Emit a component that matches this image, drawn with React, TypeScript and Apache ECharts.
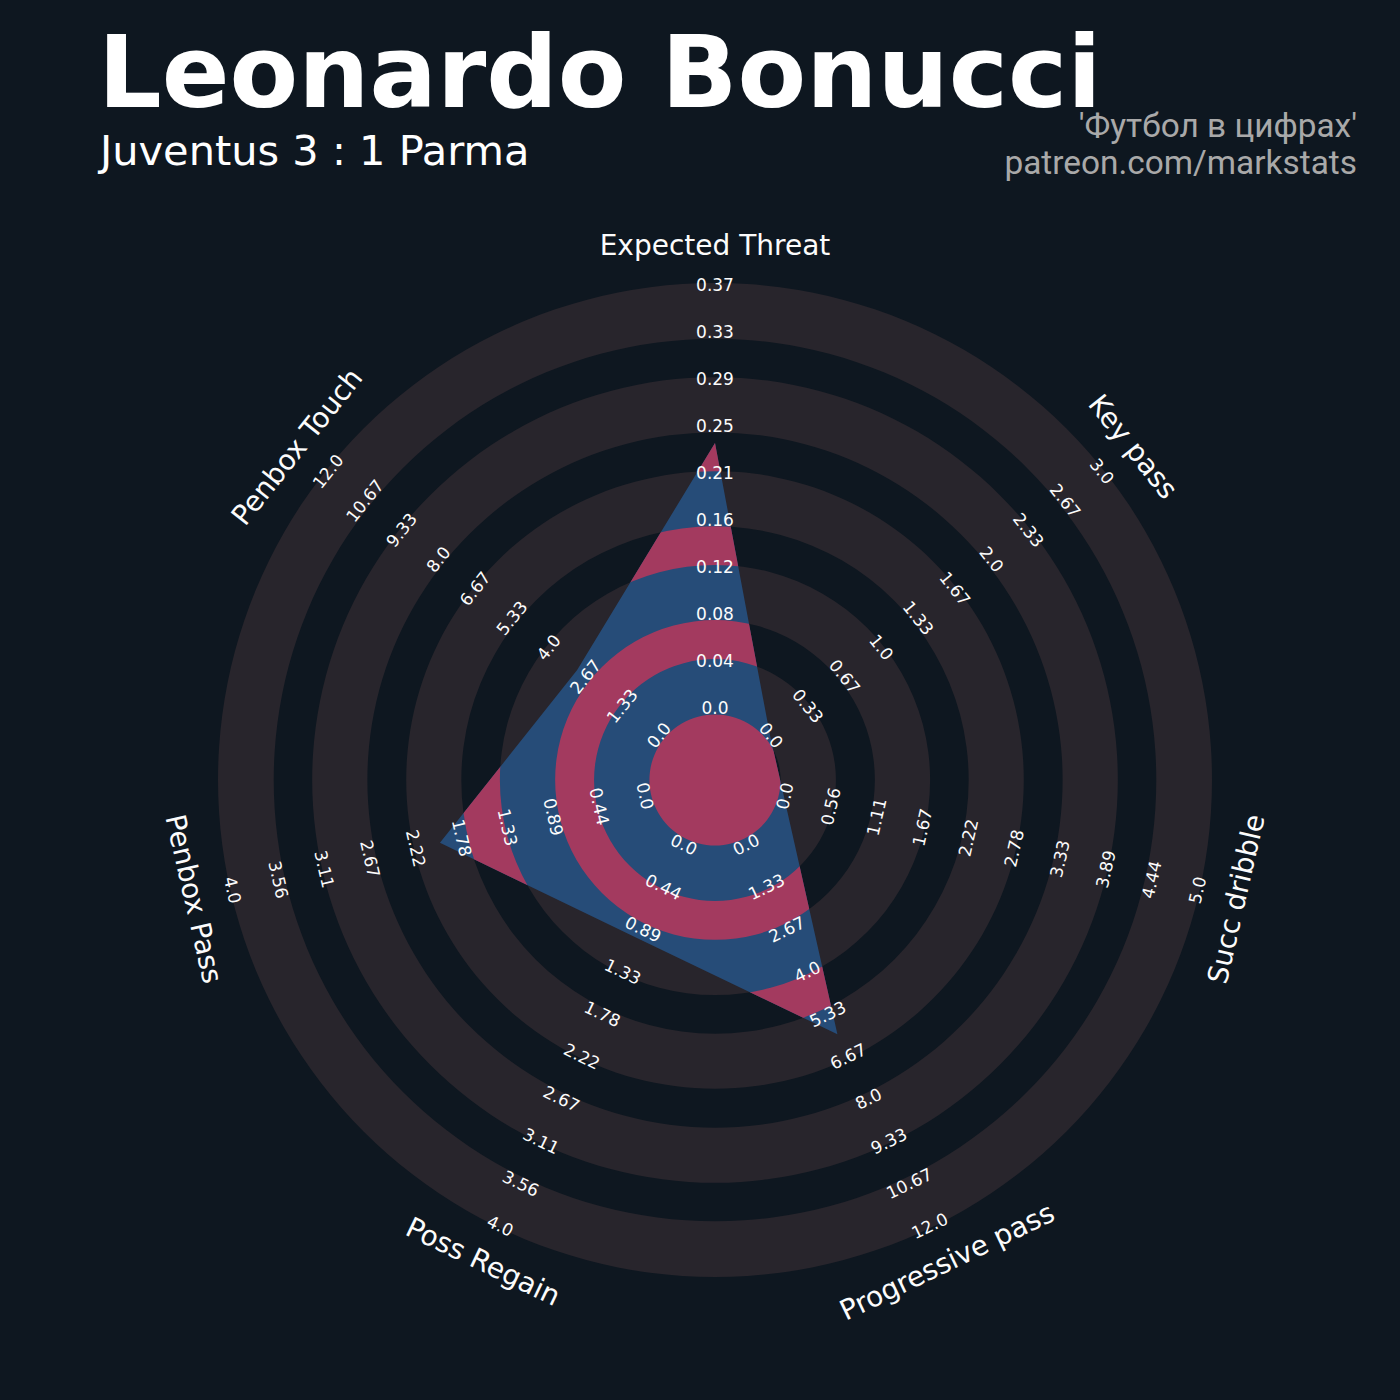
import { useEffect, useRef } from 'react';
import * as echarts from 'echarts';

// ---------- data ----------
const PLAYER = 'Leonardo Bonucci';
const MATCH = 'Juventus 3 : 1 Parma';
const CREDIT_1 = "'Футбол в цифрах'";
const CREDIT_2 = 'patreon.com/markstats';

const PARAMS = ['Expected Threat', 'Key pass', 'Succ dribble', 'Progressive pass', 'Poss Regain', 'Penbox Pass', 'Penbox Touch'];
const LOW = [0, 0, 0, 0, 0, 0, 0];
const HIGH = [0.37, 3, 5, 12, 4, 4, 12];
const VALUES = [0.233, 0, 0, 6, 1, 2, 3];

const TICKS_XT = ['0.0', '0.04', '0.08', '0.12', '0.16', '0.21', '0.25', '0.29', '0.33', '0.37'];
const TICKS_KEY_PASS = ['0.0', '0.33', '0.67', '1.0', '1.33', '1.67', '2.0', '2.33', '2.67', '3.0'];
const TICKS_DRIBBLE = ['0.0', '0.56', '1.11', '1.67', '2.22', '2.78', '3.33', '3.89', '4.44', '5.0'];
const TICKS_PROG_PASS = ['0.0', '1.33', '2.67', '4.0', '5.33', '6.67', '8.0', '9.33', '10.67', '12.0'];
const TICKS_REGAIN = ['0.0', '0.44', '0.89', '1.33', '1.78', '2.22', '2.67', '3.11', '3.56', '4.0'];
const TICKS_PENBOX_PASS = ['0.0', '0.44', '0.89', '1.33', '1.78', '2.22', '2.67', '3.11', '3.56', '4.0'];
const TICKS_PENBOX_TOUCH = ['0.0', '1.33', '2.67', '4.0', '5.33', '6.67', '8.0', '9.33', '10.67', '12.0'];
const TICKS = [TICKS_XT, TICKS_KEY_PASS, TICKS_DRIBBLE, TICKS_PROG_PASS, TICKS_REGAIN, TICKS_PENBOX_PASS, TICKS_PENBOX_TOUCH];

// ---------- geometry (radial units of the polar radius axis) ----------
const CENTER_U = 1.5; // where the low value sits
const SPAN_U = 9; // from low to high
const OUTER_U = 10.57;
const RING_INNER = [1.395, 3.4, 5.395, 7.393, 9.385];
const RING_OUTER = [2.572, 4.575, 6.567, 8.567, 10.57];
const TICK_U0 = 1.525;
const PARAM_U = 11.37;

// ---------- style ----------
const BG = '#0e1720';
const GREY = '#28252c';
const BLUE = '#264c78';
const PINK = '#a33a5f';
const TEXT = '#fcfcfc';
const CREDIT = '#a9a9a9';
const FONT = 'DejaVu Sans';

const N = PARAMS.length;
const axisAngle = (i: number) => (360 / N) * i;
const toU = (v: number, i: number) => CENTER_U + (SPAN_U * (v - LOW[i])) / (HIGH[i] - LOW[i]);
const readableRotation = (a: number) => {
  let r = -a;
  while (r <= -90) r += 180;
  while (r > 90) r -= 180;
  return (r * Math.PI) / 180;
};

function txtStyle(
  text: string,
  size: number,
  fill: string,
  align: string,
  family = FONT,
  weight = 'normal',
  lineHeight?: number
) {
  const s: any = {
    text,
    fill,
    fontSize: size,
    fontFamily: family,
    fontWeight: weight,
    align,
    verticalAlign: 'middle',
    textAlign: align,
    textVerticalAlign: 'middle',
  };
  if (lineHeight) s.lineHeight = lineHeight;
  return s;
}

export default function App() {
  const ref = useRef<HTMLDivElement>(null);

  useEffect(() => {
    if (!ref.current) return;
    const chart = echarts.init(ref.current, null, { renderer: 'svg' });
    const dist = (p: number[], c: number[]) => Math.hypot(p[0] - c[0], p[1] - c[1]);

    const radarData = VALUES.map((v, i) => [toU(v, i), axisAngle(i)]);

    const labelItems: { value: number[]; text: string; size: number }[] = [];
    TICKS.forEach((ticks, i) =>
      ticks.forEach((t, j) => labelItems.push({ value: [TICK_U0 + j, axisAngle(i)], text: t, size: 17 }))
    );
    PARAMS.forEach((p, i) => labelItems.push({ value: [PARAM_U, axisAngle(i)], text: p, size: 28 }));

    const darkBands = RING_INNER.map((r0, k) => [k === 0 ? 0 : RING_OUTER[k - 1], r0]);

    const option: any = {
      animation: false,
      backgroundColor: BG,
      polar: { center: [715, 780], radius: 497 },
      angleAxis: { type: 'value', min: 0, max: 360, startAngle: 90, clockwise: true, show: false },
      radiusAxis: { type: 'value', min: 0, max: OUTER_U, show: false },
      graphic: [
        { type: 'text', x: 98, y: 72.6, style: txtStyle(PLAYER, 100, '#ffffff', 'left', FONT, 'bold', 74) },
        { type: 'text', x: 100, y: 150.5, style: txtStyle(MATCH, 41.5, '#ffffff', 'left', FONT, 'normal', 32) },
        { type: 'text', x: 1357, y: 125.5, style: txtStyle(CREDIT_1, 33.4, CREDIT, 'right', 'Roboto', 'normal', 26) },
        { type: 'text', x: 1357, y: 162.5, style: txtStyle(CREDIT_2, 33.4, CREDIT, 'right', 'Roboto', 'normal', 26) },
      ],
      series: [
        {
          type: 'custom',
          name: 'rings',
          coordinateSystem: 'polar',
          silent: true,
          z: 1,
          data: RING_INNER.map((r0, k) => [r0, RING_OUTER[k]]),
          renderItem: (_params: any, api: any) => {
            const c = api.coord([0, 0]);
            const r0 = dist(api.coord([api.value(0), 0]), c);
            const r = dist(api.coord([api.value(1), 0]), c);
            return { type: 'ring', shape: { cx: c[0], cy: c[1], r, r0 }, style: { fill: GREY } };
          },
        },
        {
          type: 'custom',
          name: 'radar',
          coordinateSystem: 'polar',
          silent: true,
          z: 2,
          data: radarData,
          renderItem: (params: any, api: any) => {
            if (params.dataIndex !== 0) return null;
            const c = api.coord([0, 0]);
            const pts = radarData.map((d) => api.coord(d));
            const children: any[] = [{ type: 'polygon', shape: { points: pts }, style: { fill: BLUE } }];
            darkBands.forEach(([a, b]) => {
              const rIn = dist(api.coord([a, 0]), c);
              const rOut = dist(api.coord([b, 0]), c);
              children.push({
                type: 'ring',
                shape: { cx: c[0], cy: c[1], r: rOut, r0: rIn },
                style: { fill: PINK },
                clipPath: { type: 'polygon', shape: { points: pts } },
              });
            });
            return { type: 'group', children };
          },
        },
        {
          type: 'custom',
          name: 'labels',
          coordinateSystem: 'polar',
          silent: true,
          z: 3,
          data: labelItems.map((d) => d.value),
          renderItem: (params: any, api: any) => {
            const it = labelItems[params.dataIndex];
            const p = api.coord([api.value(0), api.value(1)]);
            return {
              type: 'text',
              x: p[0],
              y: p[1],
              rotation: readableRotation(api.value(1)),
              style: txtStyle(it.text, it.size, TEXT, 'center'),
            };
          },
        },
      ],
    };
    chart.setOption(option);
    return () => chart.dispose();
  }, []);

  return <div ref={ref} style={{ position: 'fixed', left: 0, top: 0, width: 1400, height: 1400 }} />;
}
